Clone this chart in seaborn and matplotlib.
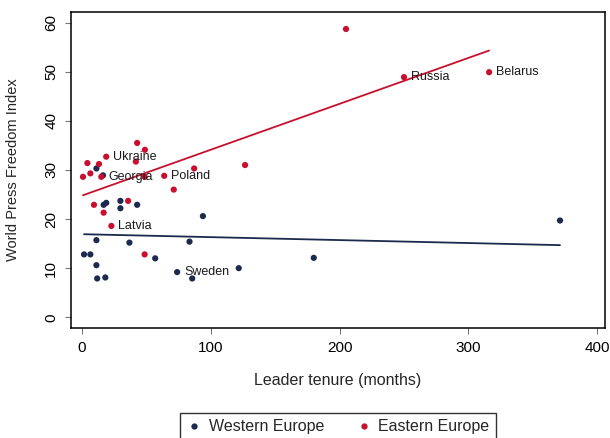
import numpy as np
import pandas as pd
import matplotlib
matplotlib.use('Agg')
import matplotlib.pyplot as plt
import seaborn as sns

# Data
west_tenure = [1.8, 6.7, 11.4, 12, 18.3, 11.4, 37, 57, 74, 85.7, 121.8, 180, 371,
               94, 83.6, 43, 30, 30, 17, 19, 11.4, 16.5]
west_wpfi = [12.8, 12.8, 10.6, 7.9, 8.1, 15.7, 15.2, 12, 9.2, 7.9, 10, 12.1, 19.7,
             20.6, 15.4, 22.9, 23.7, 22.2, 22.9, 23.3, 30.3, 28.9]
west_names = ['', '', '', '', '', '', '', '', 'Sweden', '', '', '', '',
              '', '', '', '', '', '', '', '', '']

east_tenure = [205, 250, 316, 43, 49, 19, 4.4, 13.4, 6.7, 1, 15.2, 42, 64, 71.4,
               87.2, 126.7, 48.8, 9.5, 36, 17, 23, 48.8]
east_wpfi = [58.7, 48.9, 49.9, 35.5, 34.1, 32.7, 31.4, 31.2, 29.3, 28.6, 28.6, 31.7,
             28.8, 26, 30.3, 31, 28.6, 22.9, 23.7, 21.3, 18.6, 12.8]
east_names = ['', 'Russia', 'Belarus', '', '', 'Ukraine', '', '', '', '', 'Georgia', '',
              'Poland', '', '', '', '', '', '', '', 'Latvia', '']

groups = ['Western Europe', 'Eastern Europe']
colors = {'Western Europe': '#1b2a4e', 'Eastern Europe': '#c8102e'}

df = pd.concat([
    pd.DataFrame({'tenure': west_tenure, 'wpfi': west_wpfi, 'name': west_names,
                  'region': 'Western Europe'}),
    pd.DataFrame({'tenure': east_tenure, 'wpfi': east_wpfi, 'name': east_names,
                  'region': 'Eastern Europe'}),
], ignore_index=True)

sns.set_style('ticks')
plt.rcParams['font.family'] = ['Liberation Sans', 'DejaVu Sans']

fig = plt.figure(figsize=(6.1, 4.38), dpi=100)
ax = fig.add_axes([0.116, 0.251, 0.876, 0.722])

# fitted lines per region
for g in groups:
    sub = df[df['region'] == g]
    sns.regplot(data=sub, x='tenure', y='wpfi', ax=ax, ci=None, scatter=False,
                color=colors[g], line_kws={'lw': 1.3})

sns.scatterplot(data=df, x='tenure', y='wpfi', hue='region', hue_order=groups,
                palette=colors, s=20, edgecolor='none', ax=ax, legend=False, zorder=3)

# country labels
for _, r in df[df['name'] != ''].iterrows():
    ax.annotate(r['name'], (r['tenure'], r['wpfi']), xytext=(5, 0),
                textcoords='offset points', va='center', ha='left',
                fontsize=9, color='#1a1a1a', zorder=4)

ax.set_xlim(-8.5, 406)
ax.set_ylim(-2.2, 62.2)
ax.set_xticks([0, 100, 200, 300, 400])
ax.set_yticks([0, 10, 20, 30, 40, 50, 60])
ax.tick_params(direction='out', length=4, width=0.8, color='#777777',
               labelsize=11, labelcolor='black', pad=5)
for lab in ax.get_yticklabels():
    lab.set_rotation(90)
    lab.set_va('center')
for sp in ax.spines.values():
    sp.set_visible(True)
    sp.set_color('black')
    sp.set_linewidth(1.1)

ax.set_xlabel('Leader tenure (months)', fontsize=11.5, labelpad=13)
ax.set_ylabel('World Press Freedom Index', fontsize=10.5)
ax.yaxis.set_label_coords(-0.095, 0.5)

handles = [plt.Line2D([], [], marker='o', ls='none', ms=3.5, color=colors[g]) for g in groups]
leg = fig.legend(handles, groups, loc='upper center', bbox_to_anchor=(0.554, 0.057),
                 ncol=2, fontsize=11.5, frameon=True, fancybox=False, handletextpad=0.4,
                 columnspacing=2.0, handlelength=1.0, borderpad=0.4, borderaxespad=0)
leg.get_frame().set_edgecolor('black')
leg.get_frame().set_linewidth(1.0)

fig.savefig('out.png', dpi=100)
